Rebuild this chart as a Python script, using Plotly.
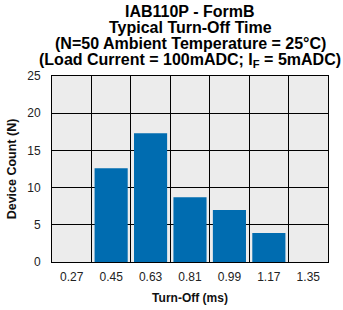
import plotly.graph_objects as go

categories = ["0.27", "0.45", "0.63", "0.81", "0.99", "1.17", "1.35"]
counts = [0, 12.6, 17.3, 8.7, 7.0, 3.9, 0]
y_ticks = [0, 5, 10, 15, 20, 25]
title_lines = [
    "IAB110P - FormB",
    "Typical Turn-Off Time",
    "(N=50 Ambient Temperature = 25°C)",
    "(Load Current = 100mADC; I<sub>F</sub> = 5mADC)",
]

fig = go.Figure()
fig.add_trace(go.Bar(x=categories, y=counts, marker=dict(color="#006cb0", line=dict(width=0))))

H = 310
top, bottom = 76, 48
plot_h = H - top - bottom
line_centers = [11, 27.5, 44, 60.5]
annotations = []
for txt, yc in zip(title_lines, line_centers):
    annotations.append(dict(
        text="<b>" + txt + "</b>", xref="paper", yref="paper", x=0.5,
        y=(H - bottom - yc) / plot_h, xanchor="center", yanchor="middle",
        showarrow=False, font=dict(family="Liberation Sans, Arial", size=16, color="black"),
    ))

fig.update_layout(
    template="none",
    width=343, height=310,
    margin=dict(l=52, r=15, t=top, b=bottom, pad=0),
    paper_bgcolor="white", plot_bgcolor="#ececec",
    bargap=0.16, showlegend=False,
    annotations=annotations,
    font=dict(family="Liberation Sans, Arial", color="#222"),
)
fig.update_xaxes(
    type="category", tickson="boundaries", automargin=False,
    showgrid=True, gridcolor="#000000", gridwidth=1, zeroline=False,
    showline=True, linecolor="black", linewidth=1, mirror=True,
    ticks="", tickfont=dict(size=12, color="#222"), ticklabelstandoff=4,
    title=dict(text="<b>Turn-Off (ms)</b>", font=dict(size=12, color="#111"), standoff=10),
)
fig.update_yaxes(
    range=[0, 25], tickmode="array", tickvals=y_ticks, automargin=False,
    showgrid=True, gridcolor="black", gridwidth=1, zeroline=False,
    showline=True, linecolor="black", linewidth=1, mirror=True,
    ticks="", tickfont=dict(size=12, color="#222"), ticklabelstandoff=8,
    title=dict(text="<b>Device Count (N)</b>", font=dict(size=12.5, color="#111"), standoff=7),
)

fig.write_html(
    "out.html",
    config={"displayModeBar": False},
    post_script="document.body.style.margin='0';document.body.style.padding='0';",
)
